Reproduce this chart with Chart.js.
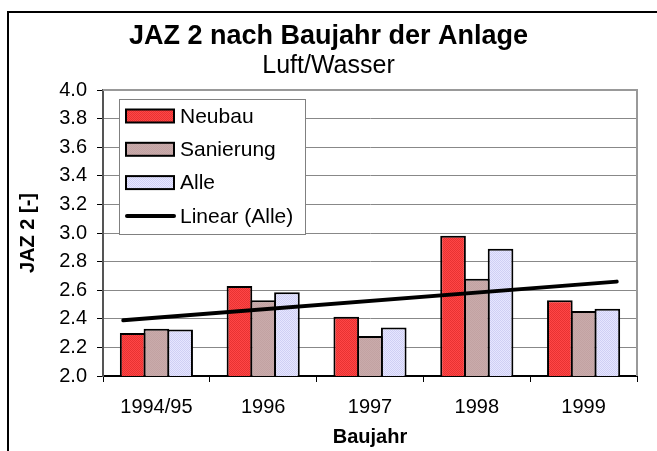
<!DOCTYPE html>
<html>
<head>
<meta charset="utf-8">
<script src="https://cdn.jsdelivr.net/npm/chart.js@4"></script>
<style>
  html, body { margin: 0; padding: 0; background: #fff; }
  #wrap { position: relative; width: 657px; height: 451px; }
</style>
</head>
<body>
<div id="wrap"><canvas id="c" width="657" height="451"></canvas></div>
<script>
// ---- data ----
const categories = ['1994/95', '1996', '1997', '1998', '1999'];
const neubau     = [2.30, 2.63, 2.415, 2.98, 2.53];
const sanierung  = [2.33, 2.53, 2.28, 2.68, 2.455];
const alle       = [2.325, 2.585, 2.34, 2.89, 2.47];
// trend line "Linear (Alle)": endpoints in category-index units
const trendX = [-0.31, 4.31];
const trendY = [2.39, 2.66];
// y axis
const yMin = 2.0, yMax = 4.0, yStep = 0.2;

const FONT = '"Liberation Sans", Arial, sans-serif';

function makePattern(c1, c2) {
  const cv = document.createElement('canvas');
  cv.width = 2; cv.height = 2;
  const g = cv.getContext('2d');
  g.fillStyle = c1; g.fillRect(0, 0, 2, 2);
  g.fillStyle = c2; g.fillRect(0, 0, 1, 1); g.fillRect(1, 1, 1, 1);
  return g.createPattern(cv, 'repeat');
}
const redFill = makePattern('#ff4646', '#e83232');
const brownFill = makePattern('#c9abab', '#c2a2a2');
const blueFill = makePattern('#e6e6ff', '#cfcff4');

const framePlugin = {
  id: 'frame',
  beforeDraw(chart) {
    const ctx = chart.ctx;
    ctx.save();
    ctx.fillStyle = '#fff';
    ctx.fillRect(0, 0, chart.width, chart.height);
    ctx.strokeStyle = '#000';
    ctx.lineWidth = 2;
    ctx.beginPath();
    ctx.moveTo(8, chart.height + 2);
    ctx.lineTo(8, 12);
    ctx.lineTo(chart.width + 2, 12);
    ctx.stroke();
    ctx.restore();
  },
  beforeDatasetsDraw(chart) {
    const ctx = chart.ctx, a = chart.chartArea;
    ctx.save();
    ctx.strokeStyle = '#999';
    ctx.lineWidth = 2;
    ctx.beginPath();
    ctx.moveTo(a.left, a.top);
    ctx.lineTo(a.right, a.top);
    ctx.lineTo(a.right, a.bottom);
    ctx.stroke();
    ctx.restore();
  }
};

const legendPlugin = {
  id: 'boxLegend',
  afterDraw(chart) {
    const ctx = chart.ctx;
    const bx = 119, by = 99, bw = 186, bh = 135;
    ctx.save();
    ctx.fillStyle = '#fff';
    ctx.fillRect(bx, by, bw, bh);
    ctx.strokeStyle = '#808080';
    ctx.lineWidth = 1;
    ctx.strokeRect(bx + 0.5, by + 0.5, bw, bh);
    ctx.font = '21px ' + FONT;
    ctx.textBaseline = 'middle';
    chart.data.datasets.forEach((ds, i) => {
      const cy = by + 17 + i * 33.3;
      if (ds.type === 'line') {
        ctx.strokeStyle = '#000';
        ctx.lineWidth = 4;
        ctx.lineCap = 'round';
        ctx.beginPath();
        ctx.moveTo(127, cy); ctx.lineTo(174, cy);
        ctx.stroke();
      } else {
        ctx.fillStyle = ds.backgroundColor;
        ctx.fillRect(126, cy - 6.5, 48, 13);
        ctx.strokeStyle = '#000';
        ctx.lineWidth = 2;
        ctx.strokeRect(126, cy - 6.5, 48, 13);
      }
      ctx.fillStyle = '#000';
      ctx.fillText(ds.label, 180, cy + 1);
    });
    ctx.restore();
  }
};

const barCommon = {
  xAxisID: 'x',
  yAxisID: 'y',
  borderColor: '#000',
  borderWidth: 2,
  borderSkipped: 'bottom',
  categoryPercentage: 0.667,
  barPercentage: 1.08,
  order: 1
};

new Chart(document.getElementById('c'), {
  type: 'bar',
  data: {
    labels: categories,
    datasets: [
      Object.assign({ label: 'Neubau', data: neubau, backgroundColor: redFill }, barCommon),
      Object.assign({ label: 'Sanierung', data: sanierung, backgroundColor: brownFill }, barCommon),
      Object.assign({ label: 'Alle', data: alle, backgroundColor: blueFill }, barCommon),
      {
        type: 'line',
        label: 'Linear (Alle)',
        parsing: false,
        data: trendX.map((x, i) => ({ x: x, y: trendY[i] })),
        xAxisID: 'x',
        yAxisID: 'y',
        borderColor: '#000',
        borderWidth: 4,
        borderCapStyle: 'round',
        pointRadius: 0,
        fill: false,
        order: 0
      }
    ]
  },
  options: {
    responsive: false,
    animation: false,
    devicePixelRatio: 1,
    layout: { padding: 0 },
    plugins: {
      legend: { display: false },
      tooltip: { enabled: false },
      title: {
        display: true,
        text: 'JAZ 2 nach Baujahr der Anlage',
        color: '#000',
        font: { family: FONT, size: 27, weight: 'bold', lineHeight: 1 },
        padding: { top: 23.5, bottom: 0 }
      },
      subtitle: {
        display: true,
        text: 'Luft/Wasser',
        color: '#000',
        font: { family: FONT, size: 25, weight: 'normal', lineHeight: 1 },
        padding: { top: 3, bottom: 11.5 }
      }
    },
    scales: {
      x: {
        type: 'category',
        position: 'bottom',
        offset: true,
        grid: {
          offset: true,
          drawOnChartArea: false,
          drawTicks: true,
          tickLength: 6,
          color: '#000',
          tickColor: '#000'
        },
        border: { color: '#000', width: 2 },
        ticks: { color: '#000', font: { family: FONT, size: 20 }, padding: 13, maxRotation: 0 },
        title: {
          display: true,
          text: 'Baujahr',
          color: '#000',
          font: { family: FONT, size: 20, weight: 'bold', lineHeight: 1 },
          padding: { top: 0, bottom: 4 }
        },
        afterFit(scale) { scale.height = 75; }
      },
      y: {
        type: 'linear',
        position: 'left',
        min: yMin,
        max: yMax,
        ticks: {
          stepSize: yStep,
          color: '#000',
          font: { family: FONT, size: 20 },
          padding: 10,
          callback: (v) => v.toFixed(1)
        },
        grid: { color: '#888', lineWidth: 1, tickLength: 6, tickColor: '#000' },
        border: { color: '#555', width: 2 },
        title: {
          display: true,
          text: 'JAZ 2 [-]',
          color: '#000',
          font: { family: FONT, size: 20, weight: 'bold', lineHeight: 1 },
          padding: { top: 18, bottom: 0 }
        },
        afterFit(scale) { scale.width = 103; }
      },
      yr: {
        type: 'linear',
        position: 'right',
        display: true,
        grid: { display: false, drawTicks: false },
        border: { display: false },
        ticks: { display: false },
        afterFit(scale) { scale.width = 20; }
      }
    }
  },
  plugins: [framePlugin, legendPlugin]
});
</script>
</body>
</html>
